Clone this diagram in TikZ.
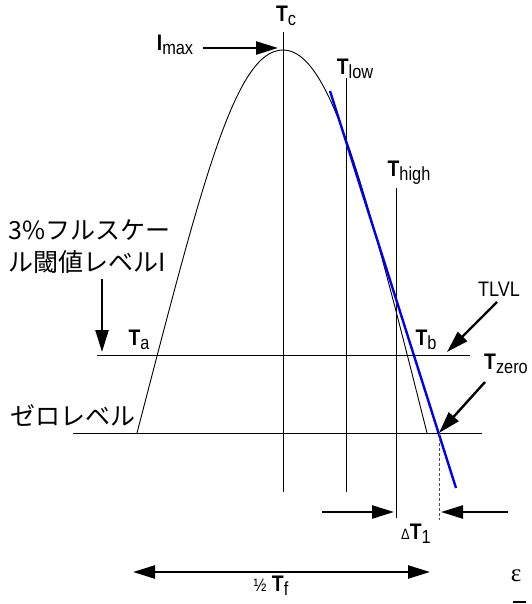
\documentclass[tikz,border=0pt]{standalone}
\usepackage{fontspec}
\setmainfont{Liberation Sans}[FakeStretch=0.86]
\newfontfamily\jpfont{Noto Sans CJK JP}
\newfontfamily\epsfont{Liberation Serif}
\usetikzlibrary{arrows.meta, positioning}
\definecolor{tanblue}{HTML}{0000F0}
\newcommand{\tlab}[2]{\textbf{#1}\raisebox{-4pt}{\fontsize{19}{19}\selectfont #2}}

\begin{document}
\begin{tikzpicture}[x=1pt, y=-1pt,
  guide/.style={line width=0.9pt, black},
  arr/.style={-{Triangle[length=22pt, width=13pt]}, line width=2.4pt},
  lbl/.style={inner sep=0pt, font=\fontsize{22.5}{22.5}\selectfont},
  jp/.style={inner sep=0pt, anchor=west, font=\jpfont\fontsize{25}{32}\selectfont, align=left}]
  \useasboundingbox (0,0) rectangle (531,604);
  \coordinate (peak) at (283,50);
  \coordinate (footl) at (137,433);
  \coordinate (footr) at (427,433);
  \coordinate (tzero) at (439,433);
  \draw[guide] (283,32) -- (283,492);
  \draw[guide] (346,78) -- (346,492);
  \draw[guide] (396,188) -- (396,518);
  \draw[guide] (97,355) -- (470,355);
  \draw[guide] (73,433) -- (482,433);
  \draw[guide] (footl) .. controls (202,183) and (235,50) .. (peak)
                       .. controls (330,50) and (364,183) .. (footr);
  \draw[line width=2.4pt, tanblue] (330,91) -- (456,488);
  \draw[line width=0.7pt, densely dashed, black!70] (tzero) -- (439,520);
  \node[lbl] (tc) at (286,16) {\tlab{T}{c}};
  \node[lbl] (imax) at (175,45) {\tlab{I}{max}};
  \node[lbl] (tlow) at (355,69) {\tlab{T}{low}};
  \node[lbl] (thigh) at (409,173) {\tlab{T}{high}};
  \node[lbl] (ta) at (139,340) {\tlab{T}{a}};
  \node[lbl] (tb) at (426,340) {\tlab{T}{b}};
  \node[lbl, font=\fontsize{21}{21}\selectfont] (tlvl) at (499,289) {TLVL};
  \node[lbl] (tzlab) at (506,364) {\tlab{T}{zero}};
  \node[lbl] (dt) at (416,534) {{\fontsize{15}{15}\selectfont Δ}\tlab{T}{1}};
  \node[lbl] (half) at (271,586) {{\fontsize{18}{18}\selectfont ½} \tlab{T}{f}};
  \node[lbl, font=\epsfont\fontsize{25}{25}\selectfont] (eps) at (516,576) {ε};
  \node[jp] (thresh) at (8,247) {3\%フルスケー\\ル閾値レベルI};
  \node[jp] (zero) at (10,415) {ゼロレベル};
  \coordinate (imaxtail) at (203,48);
  \coordinate (imaxtip) at (278,48);
  \coordinate (threshtail) at (102,279);
  \coordinate (threshtip) at (102,352);
  \coordinate (tlvltail) at (497,302);
  \coordinate (tlvltip) at (447,352);
  \coordinate (tzerotail) at (485,382);
  \coordinate (dtl) at (322,512);
  \coordinate (dtlend) at (394,512);
  \coordinate (dtr) at (508,512);
  \coordinate (dtrend) at (441,512);
  \coordinate (halfl) at (133,572);
  \coordinate (halfr) at (430,572);
  \draw[arr] (imaxtail) -- (imaxtip);
  \draw[arr] (threshtail) -- (threshtip);
  \draw[arr] (tlvltail) -- (tlvltip);
  \draw[arr] (tzerotail) -- (tzero);
  \draw[arr] (dtl) -- (dtlend);
  \draw[arr] (dtr) -- (dtrend);
  \draw[arr, {Triangle[length=22pt, width=13pt]}-{Triangle[length=22pt, width=13pt]}] (halfl) -- (halfr);
  \draw[line width=2pt] (513,602) -- (526,602);
\end{tikzpicture}
\end{document}
